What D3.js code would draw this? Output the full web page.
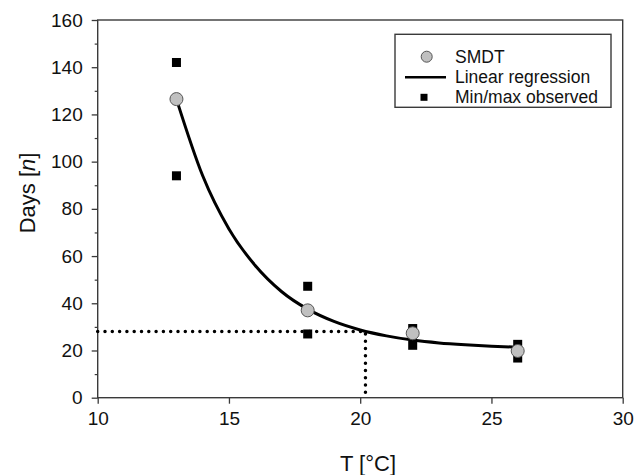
<!DOCTYPE html>
<html>
<head>
<meta charset="utf-8">
<script src="https://cdn.jsdelivr.net/npm/d3@7"></script>
<style>
  body { margin: 0; background: #fff; }
  svg { display: block; font-family: Arial, "Liberation Sans", sans-serif; }
</style>
</head>
<body>
<svg id="chart" width="635" height="475"></svg>
<script>
// temperatures and SMDT means
var temps = [13, 18, 22, 26];
var smdt = [126.5, 37, 27.3, 19.8];
// min / max observed
var obsMin = [94, 27, 22.2, 16.8];
var obsMax = [142, 47.2, 29.3, 22.6];
// regression curve
var curveT = [13, 14, 15, 16, 17, 18, 19, 20, 21, 22, 23, 24, 25, 26];
var curveDays = [126.5, 94, 71.5, 56, 45, 37.5, 32.3, 28.7, 26.2, 24.4, 23.2, 22.4, 21.8, 21.4];
// reference crossing (dotted)
var refT = 20.2;
var refDays = 28;

var xTicks = [10, 15, 20, 25, 30];
var yTicks = [0, 20, 40, 60, 80, 100, 120, 140, 160];
var yMinor = [10, 30, 50, 70, 90, 110, 130, 150];

var pLeft = 97.7, pRight = 622.7, pTop = 20, pBottom = 397.7;
var axisCol = "#3a3a3a";

var svg = d3.select("#chart");
var x = d3.scaleLinear().domain([10, 30]).range([pLeft, pRight]);
var y = d3.scaleLinear().domain([0, 160]).range([pBottom, pTop]);

// frame
svg.append("rect")
  .attr("x", pLeft).attr("y", pTop)
  .attr("width", pRight - pLeft).attr("height", pBottom - pTop)
  .attr("fill", "none").attr("stroke", axisCol).attr("stroke-width", 1.4);

// x axis
var xAxis = svg.append("g")
  .attr("transform", "translate(0," + pBottom + ")")
  .call(d3.axisBottom(x).tickValues(xTicks).tickSize(6).tickSizeOuter(0).tickPadding(8));
xAxis.select(".domain").remove();
xAxis.selectAll("line").attr("stroke", axisCol).attr("stroke-width", 1.3);
xAxis.selectAll("text").attr("font-size", 19).attr("fill", "#111").attr("font-family", null);

// y axis
var yAxis = svg.append("g")
  .attr("transform", "translate(" + pLeft + ",0)")
  .call(d3.axisLeft(y).tickValues(yTicks).tickSize(6).tickSizeOuter(0).tickPadding(9));
yAxis.select(".domain").remove();
yAxis.selectAll("line").attr("stroke", axisCol).attr("stroke-width", 1.3);
yAxis.selectAll("text").attr("font-size", 19).attr("fill", "#111").attr("font-family", null);

var yMinorAxis = svg.append("g")
  .attr("transform", "translate(" + pLeft + ",0)")
  .call(d3.axisLeft(y).tickValues(yMinor).tickSize(3).tickFormat(""));
yMinorAxis.select(".domain").remove();
yMinorAxis.selectAll("line").attr("stroke", axisCol).attr("stroke-width", 1.2);

// axis titles
svg.append("text")
  .attr("x", 368).attr("y", 471)
  .attr("text-anchor", "middle")
  .attr("font-size", 22).attr("fill", "#111")
  .text("T [°C]");

var yt = svg.append("text")
  .attr("transform", "translate(35,193) rotate(-90)")
  .attr("text-anchor", "middle")
  .attr("font-size", 22).attr("fill", "#111");
yt.append("tspan").text("Days [");
yt.append("tspan").attr("font-style", "italic").text("n");
yt.append("tspan").text("]");

// dotted reference lines
var dotted = d3.line().x(function (d) { return x(d[0]); }).y(function (d) { return y(d[1]); });
svg.append("path")
  .attr("d", dotted([[10, refDays], [refT, refDays], [refT, 0]]))
  .attr("fill", "none").attr("stroke", "#000")
  .attr("stroke-width", 3.5).attr("stroke-linecap", "round")
  .attr("stroke-dasharray", "0,7.3");

// regression curve
var line = d3.line()
  .x(function (d, i) { return x(curveT[i]); })
  .y(function (d) { return y(d); })
  .curve(d3.curveMonotoneX);
svg.append("path")
  .attr("d", line(curveDays))
  .attr("fill", "none").attr("stroke", "#000").attr("stroke-width", 3);

// min / max squares
var sq = 9;
var obs = [];
temps.forEach(function (t, i) { obs.push([t, obsMin[i]]); obs.push([t, obsMax[i]]); });
svg.selectAll(".obs")
  .data(obs)
  .enter().append("rect")
  .attr("class", "obs")
  .attr("x", function (d) { return x(d[0]) - sq / 2; })
  .attr("y", function (d) { return y(d[1]) - sq / 2; })
  .attr("width", sq).attr("height", sq)
  .attr("fill", "#000");

// SMDT circles
svg.selectAll(".smdt")
  .data(smdt)
  .enter().append("circle")
  .attr("class", "smdt")
  .attr("cx", function (d, i) { return x(temps[i]); })
  .attr("cy", function (d) { return y(d); })
  .attr("r", 6.5)
  .attr("fill", "#c0c0c0").attr("stroke", "#555").attr("stroke-width", 1);

// legend
var lg = svg.append("g");
lg.append("rect")
  .attr("x", 395).attr("y", 34.3).attr("width", 216).attr("height", 73)
  .attr("fill", "#fff").attr("stroke", axisCol).attr("stroke-width", 1.4);
lg.append("circle")
  .attr("cx", 426.7).attr("cy", 56.7).attr("r", 5.5)
  .attr("fill", "#c0c0c0").attr("stroke", "#555").attr("stroke-width", 1);
lg.append("line")
  .attr("x1", 405).attr("x2", 446).attr("y1", 77.3).attr("y2", 77.3)
  .attr("stroke", "#000").attr("stroke-width", 2.5);
lg.append("rect")
  .attr("x", 420.5).attr("y", 93.8).attr("width", 7).attr("height", 7)
  .attr("fill", "#000");
var legendLabels = ["SMDT", "Linear regression", "Min/max observed"];
lg.selectAll(".lgtxt")
  .data(legendLabels)
  .enter().append("text")
  .attr("class", "lgtxt")
  .attr("x", 455)
  .attr("y", function (d, i) { return 62.5 + i * 20.3; })
  .attr("font-size", 17.5).attr("fill", "#111")
  .text(function (d) { return d; });
</script>
</body>
</html>
